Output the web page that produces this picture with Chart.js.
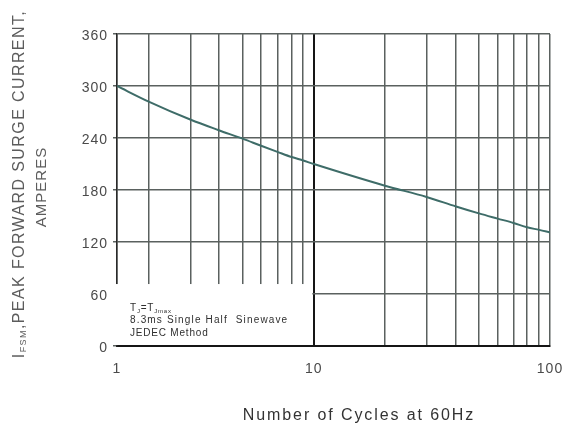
<!DOCTYPE html>
<html>
<head>
<meta charset="utf-8">
<script src="https://cdn.jsdelivr.net/npm/chart.js@4/dist/chart.umd.min.js"></script>
<style>
  html, body { margin: 0; padding: 0; background: #fff; }
  canvas { display: block; }
</style>
</head>
<body>
<canvas id="surge" width="565" height="426"></canvas>
<script>
// Number of cycles at 60 Hz and the matching peak forward surge current (A)
const cycles = [1, 2, 3, 4, 5, 6, 7, 8, 9, 10, 20, 30, 40, 50, 60, 70, 80, 90, 100];
const surgeCurrent = [300, 282, 261, 249, 239, 231, 224, 218, 214, 210, 185, 172, 161, 153, 147, 142, 137, 134, 131];

// Ticks: grid lines on the cycle axis, labelled ones, and the current axis
const xGridValues = [1, 2, 3, 4, 5, 6, 7, 8, 9, 10, 20, 30, 40, 50, 60, 70, 80, 90, 100];
const xTickLabels = [1, 10, 100];
const yTickValues = [0, 60, 120, 180, 240, 300, 360];

// Texts
const yTitleSymbol = 'I';
const yTitleSub = 'FSM';
const yTitleLine1 = ',PEAK FORWARD SURGE CURRENT,';
const yTitleLine2 = 'AMPERES';
const xTitle = 'Number of Cycles at 60Hz';
const noteLines = ['8.3ms Single Half  Sinewave', 'JEDEC Method'];

// The printed grid's first decade is not spaced as a pure log: these are the
// positions of lines 1..10 inside that decade, and the decade's share of the width.
const firstDecadeStops = [0, 0.161, 0.375, 0.517, 0.641, 0.732, 0.815, 0.887, 0.946, 1];
const firstDecadeShare = 0.4546;

function axisFraction(v) {
  if (v <= 1) return 0;
  if (v < 10) {
    const i = Math.floor(v);
    const t = v - i;
    const a = firstDecadeStops[i - 1], b = firstDecadeStops[i];
    return firstDecadeShare * (a + (b - a) * t);
  }
  return firstDecadeShare + (1 - firstDecadeShare) * Math.log10(v / 10);
}

const LogBase = Chart.LogarithmicScale || Chart.registry.getScale('logarithmic');
class ChartPaperLogScale extends LogBase {
  static id = 'paperLog';
  getPixelForValue(value) {
    if (value === undefined || value === 0) value = this.min;
    if (value === null || isNaN(value)) return NaN;
    return this.getPixelForDecimal(axisFraction(value));
  }
}
Chart.register(ChartPaperLogScale);

const SANS = '"Liberation Sans", Arial, Helvetica, sans-serif';

// White note panel in the lower-left cell plus the hand-placed titles
const decorations = {
  id: 'decorations',
  beforeDraw(chart) {
    // slightly spaced-out tick numbers
    chart.ctx.letterSpacing = '1px';
  },
  beforeDatasetsDraw(chart) {
    const { ctx, chartArea: a, scales: { x, y } } = chart;
    const right = x.getPixelForValue(10) - 1.5;
    const top = y.getPixelForValue(71.5);
    ctx.save();
    ctx.fillStyle = '#ffffff';
    ctx.fillRect(a.left - 5, top, right - (a.left - 5), a.bottom - 1 - top);

    // Note text
    const nx = a.left + 13;
    ctx.fillStyle = '#2f2f2f';
    ctx.textBaseline = 'alphabetic';
    ctx.textAlign = 'left';
    ctx.letterSpacing = '0.8px';
    let cx = nx;
    const base1 = top + 26.5;
    const put = (txt, size, dy) => {
      ctx.font = size + 'px ' + SANS;
      ctx.fillText(txt, cx, base1 + dy);
      cx += ctx.measureText(txt).width;
    };
    put('T', 10, 0); put('J', 6, 2); put('=T', 10, 0); put('Jmax', 6, 2);
    ctx.font = '10px ' + SANS;
    ctx.letterSpacing = '1.15px';
    ctx.fillText(noteLines[0], nx, base1 + 12.5);
    ctx.letterSpacing = '0.8px';
    ctx.fillText(noteLines[1], nx, base1 + 25);
    ctx.restore();
  },
  afterDraw(chart) {
    const { ctx } = chart;
    ctx.save();
    // Y title, two rotated lines
    const cy = 184;
    ctx.fillStyle = '#5c5c5c';
    ctx.textBaseline = 'middle';
    ctx.textAlign = 'left';
    ctx.translate(20, cy);
    ctx.rotate(-Math.PI / 2);
    ctx.letterSpacing = '1.4px';
    ctx.font = '16px ' + SANS;
    const wI = ctx.measureText(yTitleSymbol).width;
    const wMain = ctx.measureText(yTitleLine1).width;
    ctx.font = '9px ' + SANS;
    const wSub = ctx.measureText(yTitleSub).width;
    let px = -(wI + wSub + wMain) / 2;
    ctx.font = '16px ' + SANS;
    ctx.fillText(yTitleSymbol, px, 0); px += wI;
    ctx.font = '9px ' + SANS;
    ctx.fillText(yTitleSub, px, 4); px += wSub;
    ctx.font = '16px ' + SANS;
    ctx.fillText(yTitleLine1, px, 0);
    ctx.setTransform(1, 0, 0, 1, 0, 0);
    ctx.translate(42, cy + 3);
    ctx.rotate(-Math.PI / 2);
    ctx.textAlign = 'center';
    ctx.letterSpacing = '1px';
    ctx.font = '15px ' + SANS;
    ctx.fillText(yTitleLine2, 0, 0);
    ctx.setTransform(1, 0, 0, 1, 0, 0);

    // X title
    ctx.fillStyle = '#333333';
    ctx.textAlign = 'center';
    ctx.textBaseline = 'middle';
    ctx.letterSpacing = '1.9px';
    ctx.font = '16px ' + SANS;
    ctx.fillText(xTitle, 359, 416);
    ctx.restore();
    ctx.letterSpacing = '0px';
  }
};

const gridGray = '#5a615f';

new Chart(document.getElementById('surge'), {
  type: 'line',
  data: {
    datasets: [{
      data: cycles.map((c, i) => ({ x: c, y: surgeCurrent[i] })),
      borderColor: '#3e6c68',
      borderWidth: 2,
      pointRadius: 0,
      cubicInterpolationMode: 'monotone',
      fill: false
    }]
  },
  options: {
    responsive: false,
    devicePixelRatio: 1,
    animation: false,
    events: [],
    layout: { padding: { top: 34, right: 15, left: 0, bottom: 0 } },
    plugins: { legend: { display: false }, tooltip: { enabled: false } },
    scales: {
      x: {
        type: 'paperLog',
        min: 1,
        max: 100,
        afterBuildTicks: s => { s.ticks = xGridValues.map(v => ({ value: v })); },
        afterFit: s => { s.height = 80; s.paddingLeft = 0; s.paddingRight = 0; },
        grid: {
          drawTicks: false,
          color: c => (c.tick && c.tick.value === 10) ? '#151515' : gridGray,
          lineWidth: c => (c.tick && c.tick.value === 10) ? 2 : 1.5
        },
        border: { color: '#151515', width: 2 },
        ticks: {
          autoSkip: false,
          maxRotation: 0,
          padding: 15,
          color: '#4a4a4a',
          font: { family: SANS, size: 14 },
          callback: v => xTickLabels.includes(v) ? String(v) : ''
        }
      },
      y: {
        min: 0,
        max: 360,
        afterFit: s => { s.width = 117; s.paddingTop = 0; s.paddingBottom = 0; },
        afterBuildTicks: s => { s.ticks = yTickValues.map(v => ({ value: v })); },
        grid: { color: gridGray, lineWidth: 1.5, tickLength: 4 },
        border: { color: '#2a2a2a', width: 1.5 },
        ticks: {
          padding: 5,
          labelOffset: 2,
          color: '#4a4a4a',
          font: { family: SANS, size: 14 }
        }
      }
    }
  },
  plugins: [decorations]
});
</script>
</body>
</html>
